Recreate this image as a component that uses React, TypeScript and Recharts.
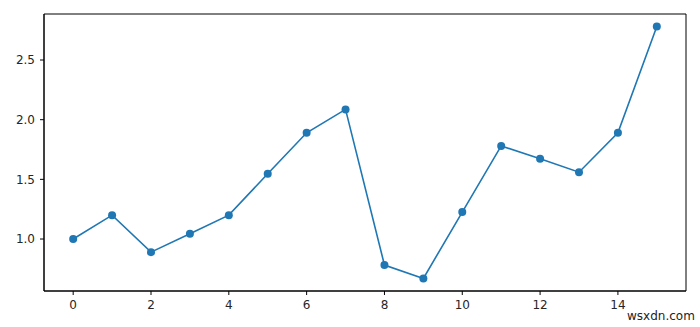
import { LineChart, Line, XAxis, YAxis, ReferenceArea } from "recharts";

const xValues = [0, 1, 2, 3, 4, 5, 6, 7, 8, 9, 10, 11, 12, 13, 14, 15];
const yValues = [
  1.0, 1.2, 0.89, 1.045, 1.2, 1.547, 1.89, 2.086, 0.782, 0.67, 1.226, 1.78,
  1.673, 1.56, 1.89, 2.78,
];
const xTicks = [0, 2, 4, 6, 8, 10, 12, 14];
const yTicks = [1.0, 1.5, 2.0, 2.5];

const xDomain: [number, number] = [-0.75, 15.75];
const yDomain: [number, number] = [0.5645, 2.8855];

const data = xValues.map((x, i) => ({ x, y: yValues[i] }));

const tickStyle = { fill: "#262626", fontSize: 12, fontFamily: "DejaVu Sans" };

export default function App() {
  return (
    <div style={{ position: "absolute", left: 0, top: 0, width: 700, height: 327, background: "#fff" }}>
      <LineChart
        width={700}
        height={327}
        data={data}
        margin={{ top: 14, right: 14, bottom: 0, left: 0 }}
      >
        <XAxis
          dataKey="x"
          type="number"
          domain={xDomain}
          ticks={xTicks}
          height={36}
          stroke="#000"
          tickSize={4}
          tickMargin={5}
          tick={tickStyle}
          allowDataOverflow
        />
        <YAxis
          dataKey="y"
          type="number"
          domain={yDomain}
          ticks={yTicks}
          width={44}
          stroke="#000"
          tickSize={4}
          tickMargin={5}
          tick={tickStyle}
          tickFormatter={(v: number) => v.toFixed(1)}
          allowDataOverflow
        />
        <ReferenceArea
          x1={xDomain[0]}
          x2={xDomain[1]}
          y1={yDomain[0]}
          y2={yDomain[1]}
          fill="none"
          stroke="#000"
          strokeWidth={1}
        />
        <Line
          dataKey="y"
          stroke="#1f77b4"
          strokeWidth={1.6}
          dot={{ r: 4, fill: "#1f77b4", stroke: "none" }}
          activeDot={false}
          isAnimationActive={false}
        />
      </LineChart>
      <div
        style={{
          position: "absolute",
          left: 627,
          top: 309,
          fontFamily: "DejaVu Sans",
          fontSize: 12,
          color: "#222",
        }}
      >
        wsxdn.com
      </div>
    </div>
  );
}
